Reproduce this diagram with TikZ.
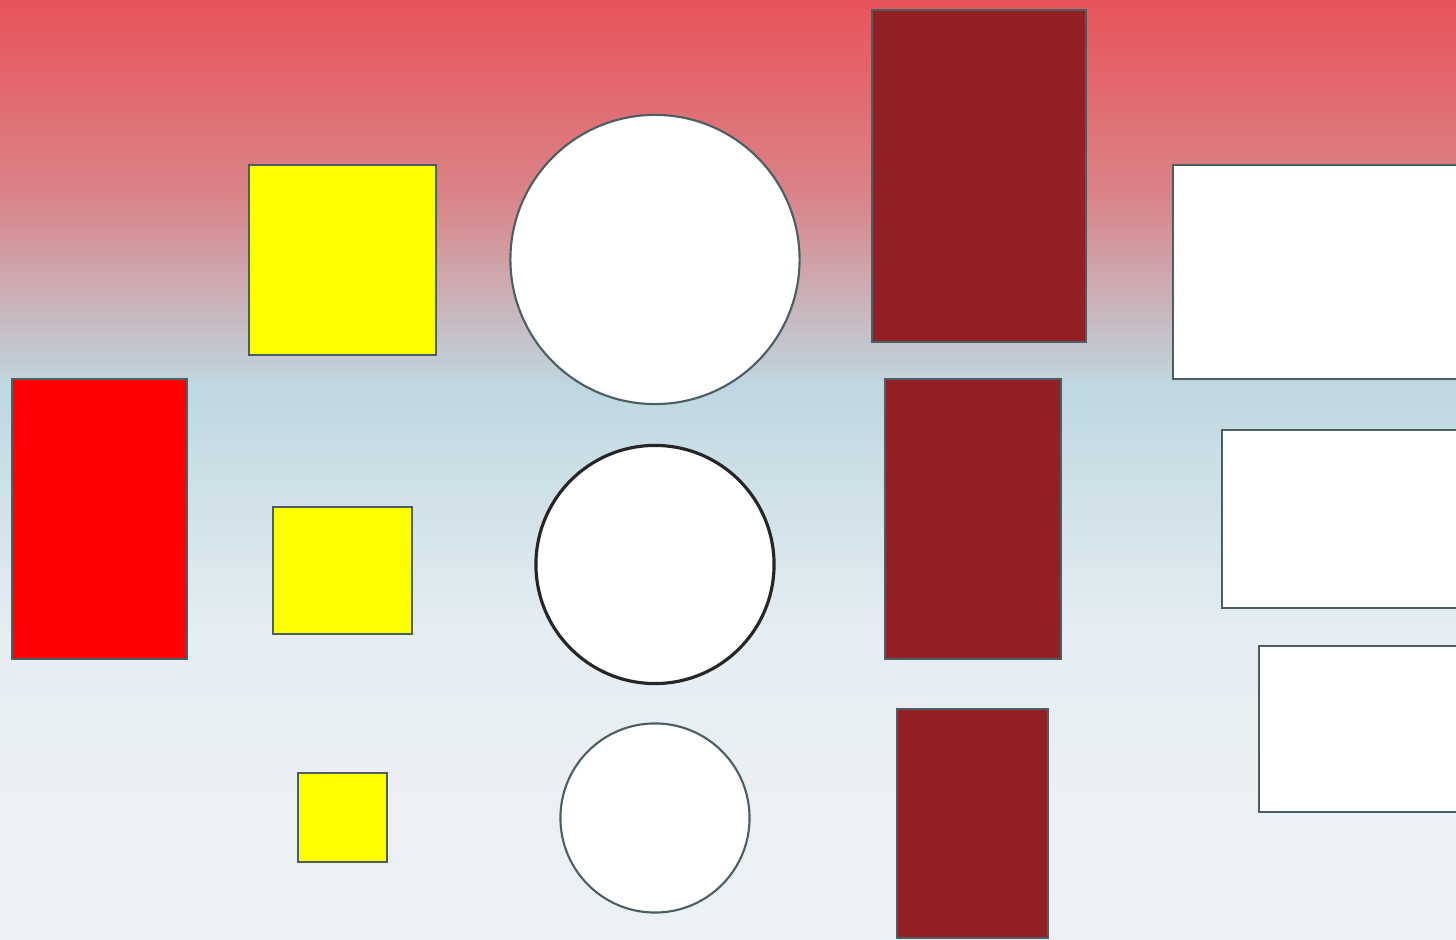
\documentclass[tikz,border=0pt]{standalone}
\usetikzlibrary{positioning}
\definecolor{topred}{HTML}{E8535A}
\definecolor{midrose}{HTML}{D98589}
\definecolor{skyblue}{HTML}{BED7E0}
\definecolor{paleblue}{HTML}{E6EEF3}
\definecolor{lowgrey}{HTML}{EDF1F4}
\definecolor{edgegrey}{HTML}{4B5E64}
\definecolor{brick}{HTML}{922024}
\definecolor{lemon}{RGB}{255,255,0}
\tikzset{
  block/.style = {rectangle, draw = edgegrey, line width = .6pt, inner sep = 0pt},
  disc/.style = {circle, draw = edgegrey, line width = .6pt, fill = white, inner sep = 0pt}
}
\begin{document}
\begin{tikzpicture}[x = .01cm, y = -.01cm]
      \useasboundingbox (0,0) rectangle (1456,940);
      \clip (0,0) rectangle (1456,940);
      % background
      \shade [top color = topred, bottom color = midrose] (0,0) rectangle (1456,200);
      \shade [top color = midrose, bottom color = skyblue] (0,199) rectangle (1456,385);
      \shade [top color = skyblue, bottom color = paleblue] (0,384) rectangle (1456,640);
      \shade [top color = paleblue, bottom color = lowgrey] (0,639) rectangle (1456,940);
      % left column
      \node [block, fill = red, minimum width = 1.75cm, minimum height = 2.8cm]
        (redbox) at (99.5,519) {};
      \node [block, fill = lemon, minimum width = 1.87cm, minimum height = 1.9cm]
        (yellowbig) at (342.5,260) {};
      \node [block, fill = lemon, minimum width = 1.39cm, minimum height = 1.27cm]
        (yellowmid) at (342.5,570.5) {};
      \node [block, fill = lemon, minimum width = .89cm, minimum height = .89cm]
        (yellowsmall) at (342.5,817.5) {};
      % circles
      \node [disc, minimum size = 2.89cm] (discbig) at (655,259.5) {};
      \node [disc, draw = black!85, line width = .9pt, minimum size = 2.38cm]
        (discmid) at (655,564.5) {};
      \node [disc, minimum size = 1.89cm] (discsmall) at (655,818) {};
      % dark red column
      \node [block, fill = brick, minimum width = 2.14cm, minimum height = 3.32cm]
        (brickbig) at (979,176) {};
      \node [block, fill = brick, minimum width = 1.76cm, minimum height = 2.8cm]
        (brickmid) at (973,519) {};
      \node [block, fill = brick, minimum width = 1.51cm, minimum height = 2.29cm]
        (bricksmall) at (972.5,823.5) {};
      % white column
      \node [block, fill = white, minimum width = 2.97cm, minimum height = 2.14cm]
        (whitebig) at (1321.5,272) {};
      \node [block, fill = white, minimum width = 2.48cm, minimum height = 1.78cm]
        (whitemid) at (1346,519) {};
      \node [block, fill = white, minimum width = 2.11cm, minimum height = 1.66cm]
        (whitesmall) at (1364.5,729) {};
    \end{tikzpicture}
\end{document}
